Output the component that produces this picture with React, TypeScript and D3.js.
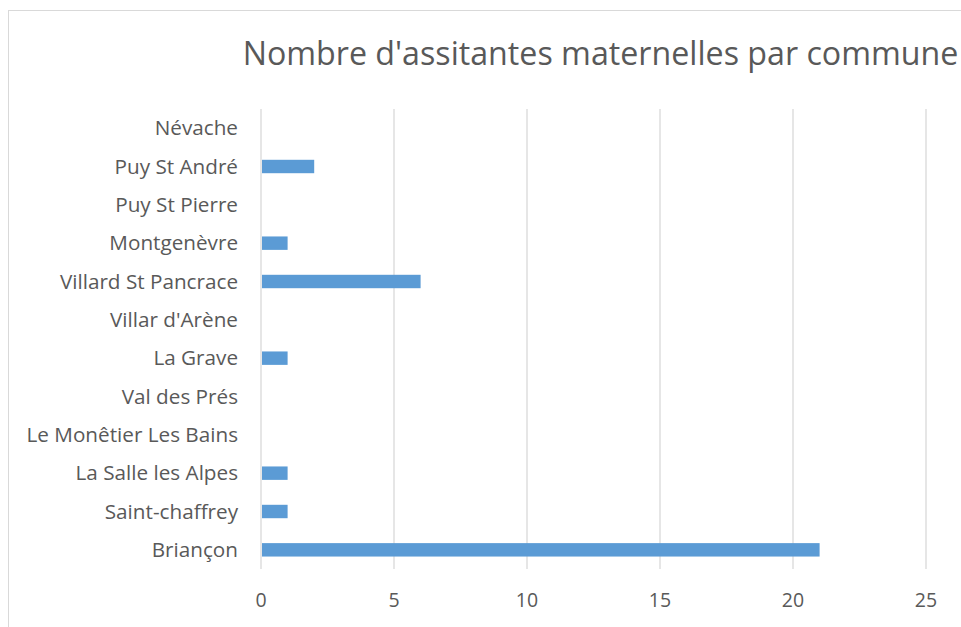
import React, { useEffect } from "react";
import * as d3 from "d3";

const TITLE = "Nombre d'assitantes maternelles par commune";
const categories = [
  "Névache",
  "Puy St André",
  "Puy St Pierre",
  "Montgenèvre",
  "Villard St Pancrace",
  "Villar d'Arène",
  "La Grave",
  "Val des Prés",
  "Le Monêtier Les Bains",
  "La Salle les Alpes",
  "Saint-chaffrey",
  "Briançon",
];
const values = [0, 2, 0, 1, 6, 0, 1, 0, 0, 1, 1, 21];
const xTicks = [0, 5, 10, 15, 20, 25];

const W = 961;
const H = 627;
const FONT = "'Open Sans', sans-serif";
const TEXT = "#595959";
const GRID = "#D9D9D9";
const BAR = "#5B9BD5";

export default function App() {
  useEffect(() => {
    document.body.style.margin = "0";
  }, []);

  const x = d3.scaleLinear().domain([0, 25]).range([261, 926]);
  const y = d3.scaleBand<string>().domain(categories).range([109, 569]).padding(0);
  const barH = y.bandwidth() * 0.35;

  return (
    <svg width={W} height={H} style={{ display: "block", background: "#fff" }}>
      <rect x={8.5} y={10.5} width={W + 20} height={H + 20} fill="#fff" stroke={GRID} strokeWidth={1} />
      <text
        x={600.5}
        y={65}
        textAnchor="middle"
        fontFamily={FONT}
        fontSize={32.2}
        fill={TEXT}
      >
        {TITLE}
      </text>
      {xTicks.map((t) => (
        <g key={t}>
          <line x1={x(t)} x2={x(t)} y1={109} y2={569} stroke={GRID} strokeWidth={1.3} />
          <text
            x={x(t)}
            y={600}
            dy="0.35em"
            textAnchor="middle"
            fontFamily={FONT}
            fontSize={19.5}
            fill={TEXT}
          >
            {t}
          </text>
        </g>
      ))}
      {categories.map((c, i) => {
        const cy = (y(c) as number) + y.bandwidth() / 2;
        return (
          <g key={c}>
            {values[i] > 0 && (
              <rect
                x={x(0) + 1}
                y={cy - barH / 2}
                width={x(values[i]) - x(0) - 1}
                height={barH}
                fill={BAR}
              />
            )}
            <text
              x={238}
              y={cy}
              dy="0.35em"
              textAnchor="end"
              fontFamily={FONT}
              fontSize={20.7}
              fill={TEXT}
            >
              {c}
            </text>
          </g>
        );
      })}
    </svg>
  );
}
